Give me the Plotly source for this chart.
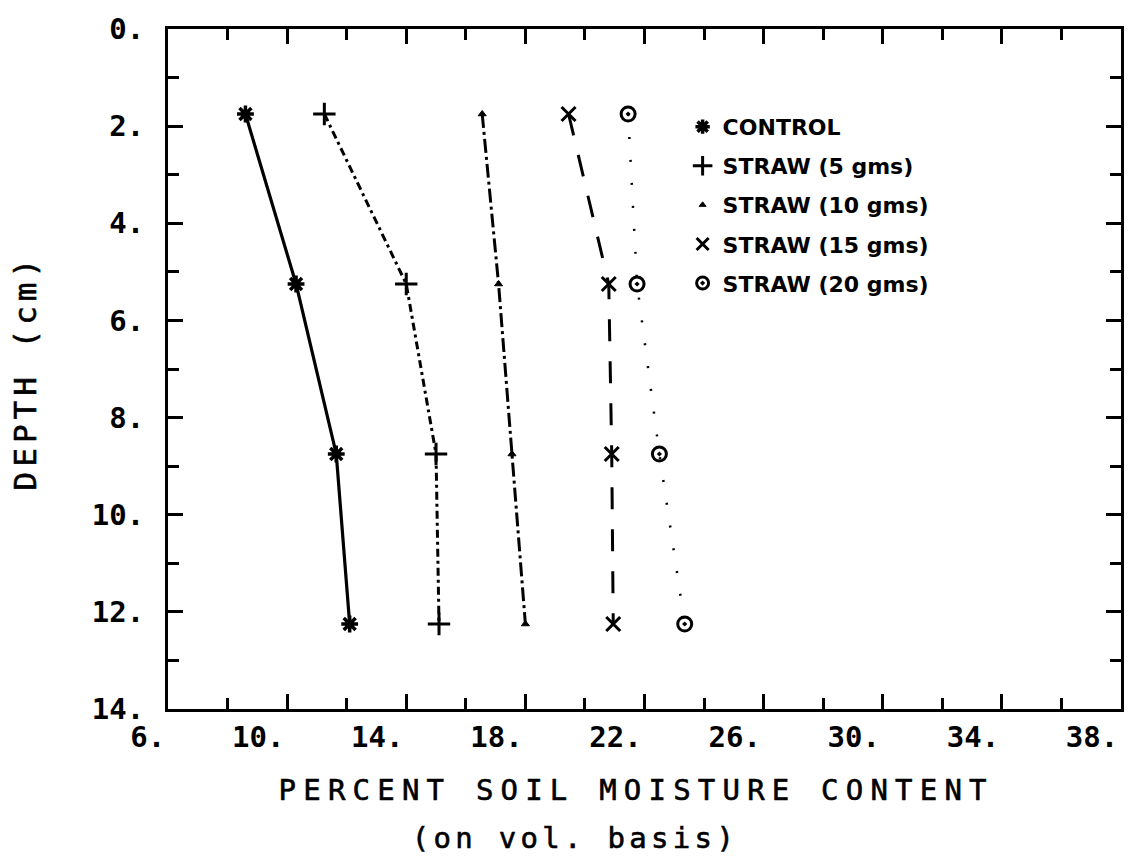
import plotly.graph_objects as go

# ---------------- data ----------------
depth = [1.75, 5.25, 8.75, 12.25]
control = [8.6, 10.3, 11.65, 12.1]
straw_5 = [11.25, 14.0, 15.0, 15.1]
straw_10 = [16.55, 17.1, 17.55, 18.0]
straw_15 = [19.45, 20.8, 20.9, 20.95]
straw_20 = [21.45, 21.75, 22.5, 23.35]
series_names = ["CONTROL", "STRAW (5 gms)", "STRAW (10 gms)",
                "STRAW (15 gms)", "STRAW (20 gms)"]

x_tickvals = [6, 10, 14, 18, 22, 26, 30, 34, 38]
x_ticktext = ["6.", "10.", "14.", "18.", "22.", "26.", "30.", "34.", "38."]
x_minor = [8, 12, 16, 20, 24, 28, 32, 36]
y_tickvals = [0, 2, 4, 6, 8, 10, 12, 14]
y_ticktext = ["0.", "2.", "4.", "6.", "8.", "10.", "12.", "14."]
y_minor = [1, 3, 5, 7, 9, 11, 13]

x_title = "PERCENT SOIL MOISTURE CONTENT"
x_subtitle = "(on vol. basis)"
y_title = "DEPTH (cm)"

# ---------------- styles ----------------
styles = [
    dict(dash="solid", lw=3.2, sym="asterisk-open", size=14, mlw=3.5),
    dict(dash="8px,4px,3px,4px", lw=3, sym="cross-thin-open", size=16, mlw=3),
    dict(dash="14px,4px,3px,4px", lw=3, sym="triangle-up", size=7, mlw=1),
    dict(dash="22px,20px", lw=3, sym="x-thin-open", size=14, mlw=3),
    dict(dash="2px,21px", lw=2.5, sym="circle-open-dot", size=14, mlw=3),
]
series = [control, straw_5, straw_10, straw_15, straw_20]

fig = go.Figure()
for vals, name, st in zip(series, series_names, styles):
    fig.add_trace(go.Scatter(
        x=vals, y=depth, mode="lines+markers", name=name, showlegend=False,
        line=dict(color="black", width=st["lw"], dash=st["dash"]),
        marker=dict(symbol=st["sym"], size=st["size"], color="black",
                    line=dict(color="black", width=st["mlw"])),
    ))
# legend entries (markers only, as in the original)
for name, st in zip(series_names, styles):
    fig.add_trace(go.Scatter(
        x=[None], y=[None], mode="markers", name=name, legendgroup=name,
        marker=dict(symbol=st["sym"], size=max(st["size"] - 2, 6), color="black",
                    line=dict(color="black", width=st["mlw"])),
    ))

tick_font = dict(family="DejaVu Sans Mono", size=29, color="black", weight="bold")
title_font = dict(family="DejaVu Sans Mono", size=29, color="black")

fig.update_layout(
    width=1135, height=865,
    margin=dict(l=168, r=14, t=29, b=156),
    paper_bgcolor="white", plot_bgcolor="white",
    showlegend=True,
    legend=dict(x=0.54, y=0.887, xanchor="left", yanchor="top",
                bgcolor="rgba(0,0,0,0)", tracegroupgap=7.5,
                font=dict(family="DejaVu Sans", size=22, color="black", weight="bold"),
                itemclick=False),
    xaxis=dict(range=[6, 38], showgrid=False, zeroline=False, automargin=False,
               showline=True, linecolor="black", linewidth=3, mirror="ticks",
               ticks="inside", ticklen=15, tickwidth=2.5, tickcolor="black",
               tickmode="array", tickvals=x_tickvals, ticktext=x_ticktext,
               tickfont=tick_font, ticklabelposition="outside left",
               ticklabelstandoff=0,
               minor=dict(tickmode="array", tickvals=x_minor, ticks="inside",
                          ticklen=11, tickwidth=2.5, tickcolor="black")),
    yaxis=dict(range=[14, 0], showgrid=False, zeroline=False, automargin=False,
               showline=True, linecolor="black", linewidth=3, mirror="ticks",
               ticks="inside", ticklen=15, tickwidth=2.5, tickcolor="black",
               tickmode="array", tickvals=y_tickvals, ticktext=y_ticktext,
               tickfont=tick_font, ticklabelstandoff=15,
               minor=dict(tickmode="array", tickvals=y_minor, ticks="inside",
                          ticklen=11, tickwidth=2.5, tickcolor="black")),
    annotations=[
        dict(text=x_title, xref="paper", yref="paper", x=0.491, y=-0.119,
             xanchor="center", yanchor="middle", showarrow=False, font=title_font),
        dict(text=x_subtitle, xref="paper", yref="paper", x=0.427, y=-0.19,
             xanchor="center", yanchor="middle", showarrow=False, font=title_font),
        dict(text=y_title, xref="paper", yref="paper", x=-0.150, y=0.495,
             xanchor="center", yanchor="middle", showarrow=False, textangle=-90,
             font=dict(family="DejaVu Sans Mono", size=31, color="black")),
    ],
)

post = """
document.body.style.margin = '0';
var gd = document.getElementById('{plot_id}');
var spacing = {};
spacing[%s] = '7.2px';
spacing[%s] = '4.3px';
spacing[%s] = '5.0px';
gd.querySelectorAll('g.annotation text.annotation-text').forEach(function(t){
  var s = spacing[t.textContent];
  if (s) { t.style.letterSpacing = s; t.style.strokeWidth = '0.6px'; t.style.stroke = 'black'; }
});
""" % (repr(x_title), repr(x_subtitle), repr(y_title))

fig.write_html("out.html", post_script=post, config={"displayModeBar": False})
